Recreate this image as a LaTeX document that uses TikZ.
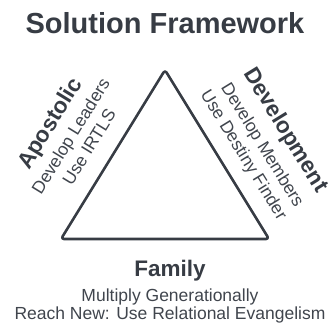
\documentclass[tikz,border=0pt]{standalone}
\usepackage{fontspec}
\setmainfont{Liberation Sans}
\definecolor{ink}{HTML}{373C44}
\definecolor{soft}{HTML}{40454D}
\begin{document}
\begin{tikzpicture}[x=1pt,y=1pt,
  heading/.style={inner sep=0pt,text=ink,font=\fontsize{29}{31}\selectfont\bfseries},
  label/.style={inner sep=0pt,text=ink,font=\fontsize{22.5}{24}\selectfont\bfseries},
  detail/.style={inner sep=0pt,text=soft,font=\fontsize{17.5}{19}\selectfont},
  frame/.style={draw=ink,line width=2.6pt,rounded corners=3pt,line join=round}]
\useasboundingbox (0,0) rectangle (331,-325);
% triangle
\coordinate (top) at (165,-70);
\coordinate (bl) at (61,-239);
\coordinate (br) at (269,-239);
\draw[frame] (top) -- (br) -- (bl) -- cycle;
% title
\node[heading,anchor=base] (title) at (165,-33) {Solution Framework};
% left side
\node[label,rotate=58.4] (apo) at (51,-124) {Apostolic};
\node[detail,rotate=58.4] (apo1) at (72,-137) {Develop Leaders};
\node[detail,rotate=58.4] (apo2) at (89,-147) {Use IRTLS};
% right side
\node[label,rotate=-58.4] (dev) at (285,-130.5) {Development};
\node[detail,rotate=-58.4] (dev1) at (261.7,-145.5) {Develop Members};
\node[detail,rotate=-58.4] (dev2) at (243,-155.5) {Use Destiny Finder};
% bottom
\node[label,anchor=base] (fam) at (170,-276.7) {Family};
\node[detail,anchor=base] (fam1) at (170,-301.5) {Multiply Generationally};
\node[detail,anchor=base] (fam2) at (170,-319) {Reach New: Use Relational Evangelism};
\end{tikzpicture}
\end{document}
